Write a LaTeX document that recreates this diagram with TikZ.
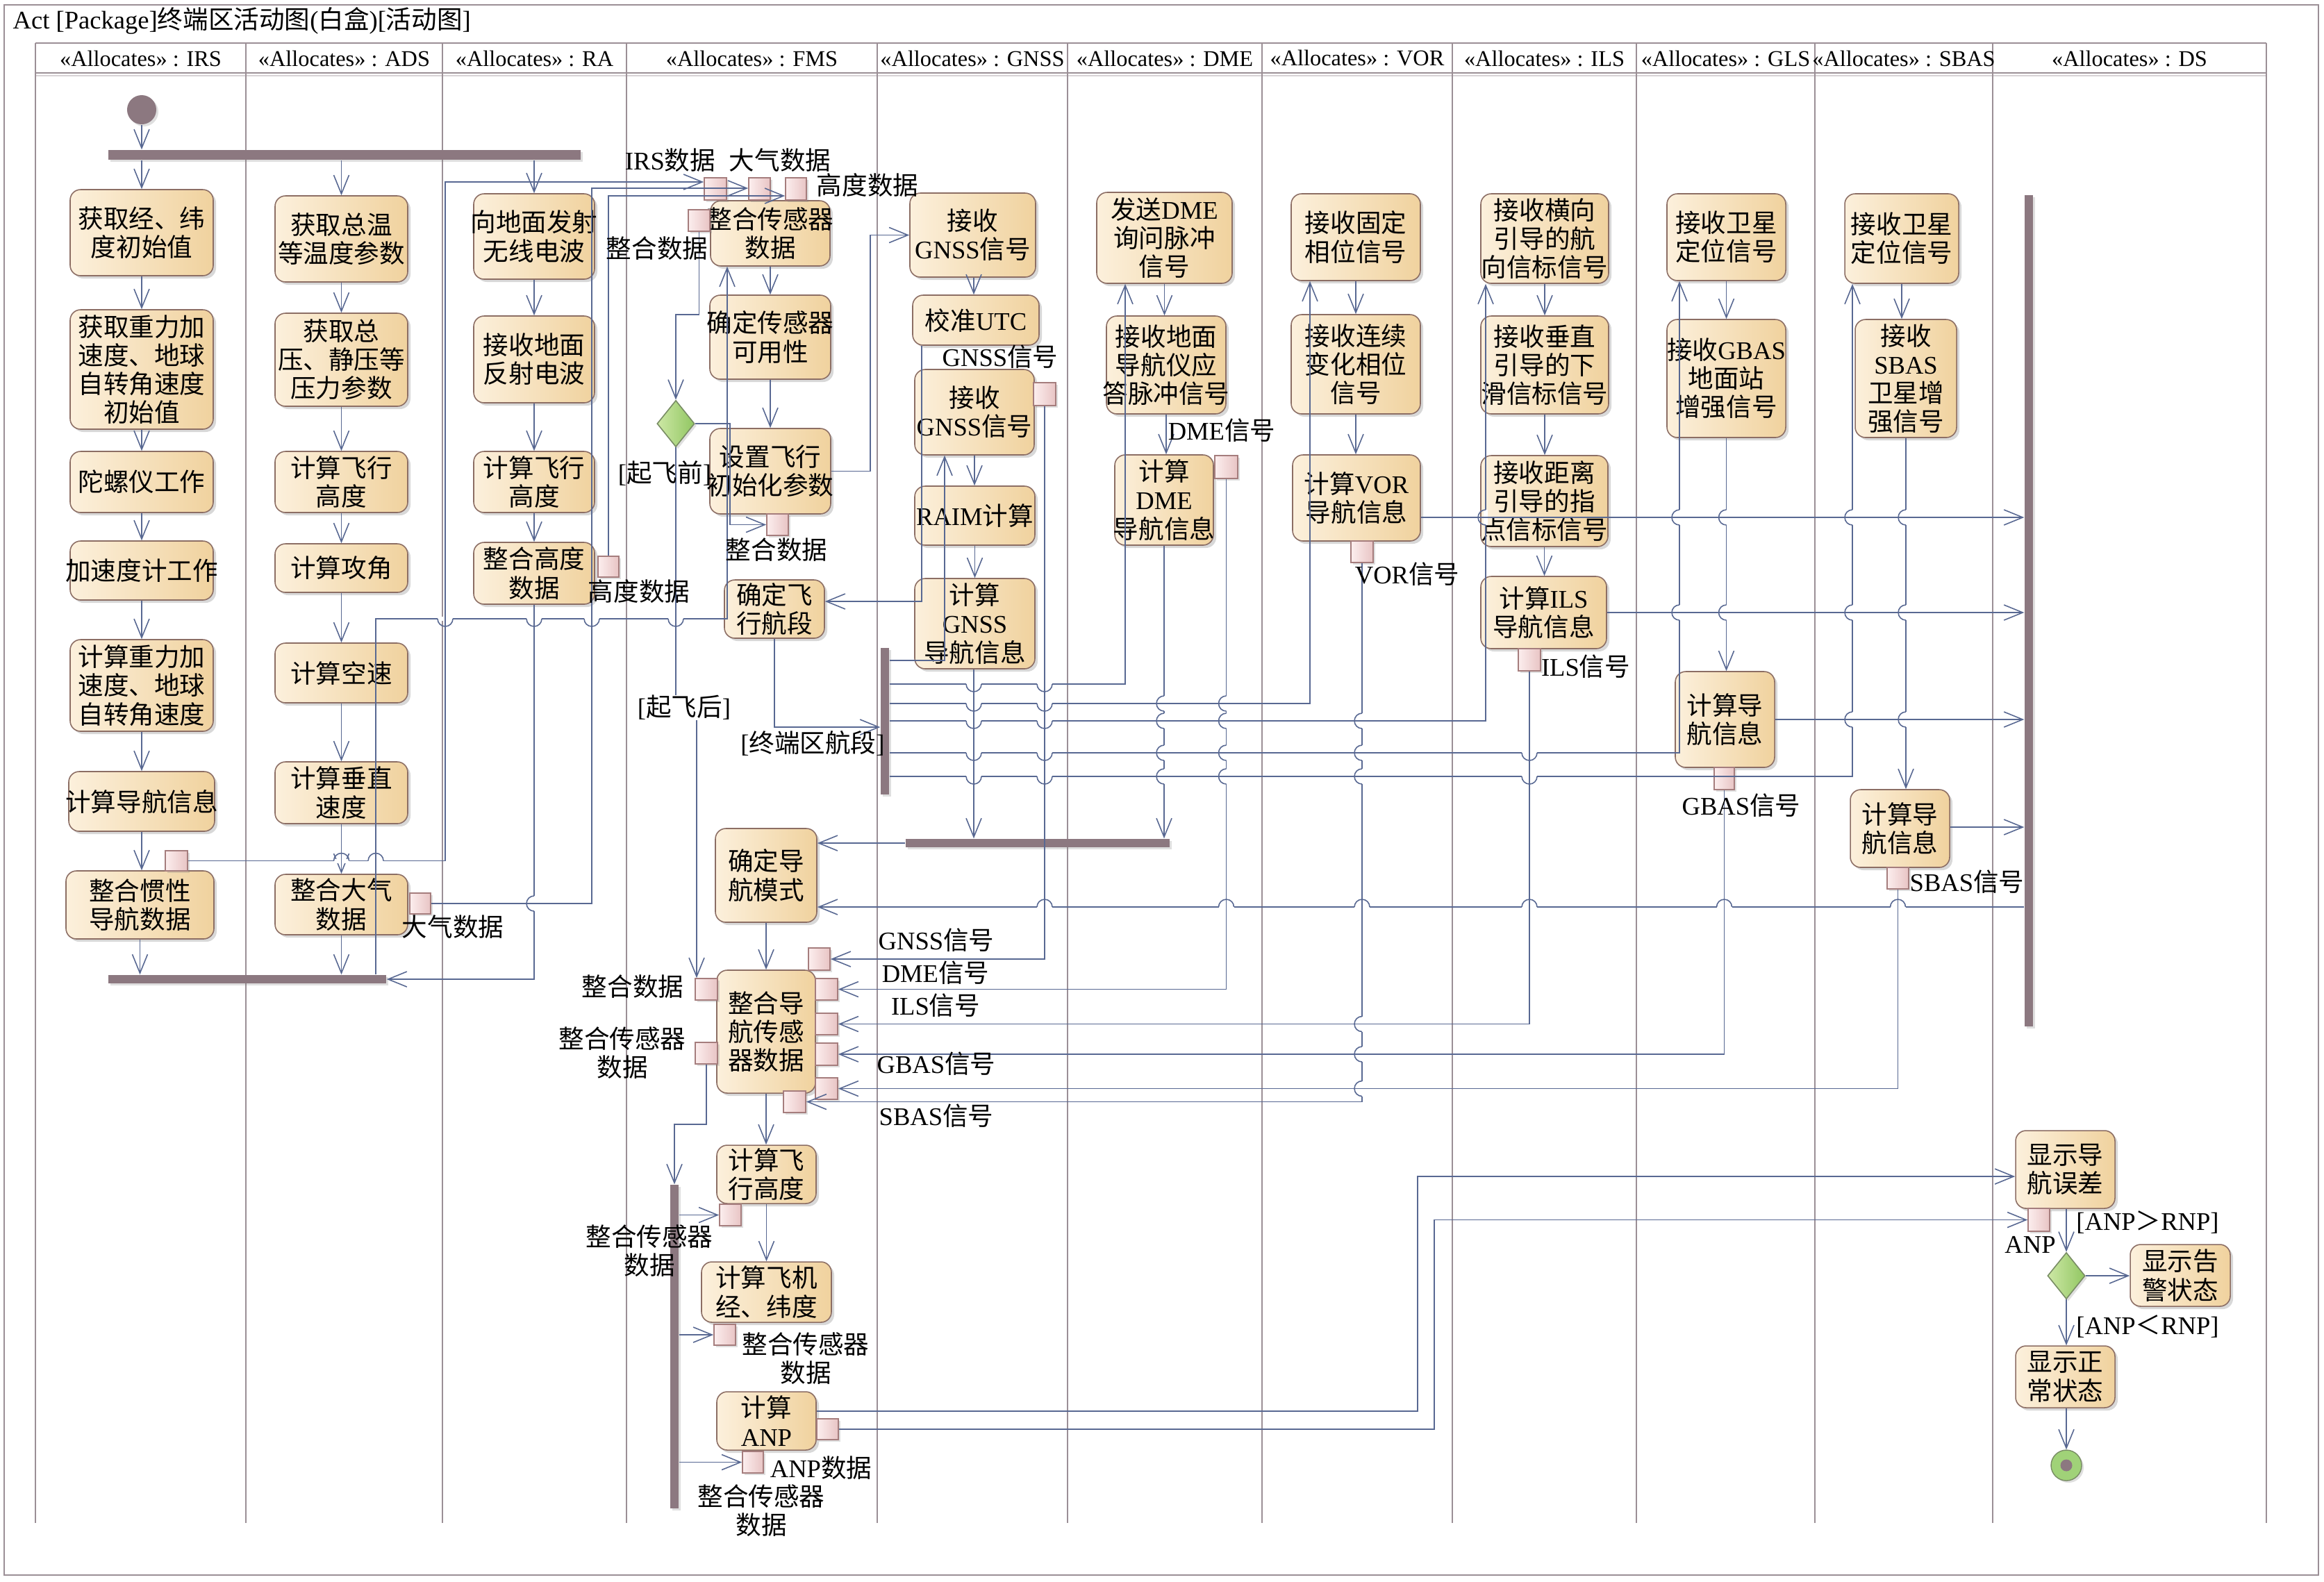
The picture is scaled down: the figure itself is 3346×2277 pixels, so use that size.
\documentclass[tikz,border=0pt]{standalone}
\usepackage{fontspec}
\setmainfont{Liberation Serif}
\newfontfamily\cjkf{Noto Sans CJK SC}
\usetikzlibrary{arrows.meta,shapes.geometric,shadows}
\XeTeXinterchartokenstate=1
\newXeTeXintercharclass\cjkcls
\newcount\mycnt
\mycnt="3000 \loop \XeTeXcharclass\mycnt=\cjkcls \ifnum\mycnt<"303F \advance\mycnt by 1 \repeat
\mycnt="4E00 \loop \XeTeXcharclass\mycnt=\cjkcls \ifnum\mycnt<"9FFF \advance\mycnt by 1 \repeat
\mycnt="FF00 \loop \XeTeXcharclass\mycnt=\cjkcls \ifnum\mycnt<"FFEF \advance\mycnt by 1 \repeat
\XeTeXinterchartoks 0 \cjkcls = {\cjkf}
\XeTeXinterchartoks 4095 \cjkcls = {\cjkf}
\XeTeXinterchartoks \cjkcls 0 = {\rmfamily}
\XeTeXinterchartoks \cjkcls 4095 = {\rmfamily}

\definecolor{actL}{RGB}{252,240,220}
\definecolor{actR}{RGB}{240,210,158}
\definecolor{actB}{RGB}{140,110,100}
\definecolor{pinL}{RGB}{252,238,238}
\definecolor{pinR}{RGB}{232,196,196}
\definecolor{pinB}{RGB}{165,125,125}
\definecolor{flowc}{RGB}{88,104,146}
\definecolor{barc}{RGB}{140,120,128}
\definecolor{lanec}{RGB}{155,143,150}
\definecolor{decL}{RGB}{205,232,165}
\definecolor{decR}{RGB}{145,198,98}
\definecolor{decB}{RGB}{120,140,100}
\definecolor{finc}{RGB}{160,210,120}

\newcommand\boxfont{\fontsize{10.4pt}{11.7pt}\selectfont}
\newcommand\hdrfont{\fontsize{9.2pt}{11pt}\selectfont}

\tikzset{
  act/.style={draw=actB, line width=0.45pt, rounded corners=0.15cm, left color=actL, right color=actR,
    inner sep=0pt, drop shadow={shadow xshift=0.04cm, shadow yshift=-0.04cm, opacity=0.3}},
  atext/.style={align=center, font=\boxfont, inner sep=0pt, text=black},
  pinb/.style={draw=pinB, line width=0.45pt, left color=pinL, right color=pinR, inner sep=0pt,
    drop shadow={shadow xshift=0.03cm, shadow yshift=-0.03cm, opacity=0.25}},
  barn/.style={fill=barc, draw=none, inner sep=0pt,
    drop shadow={shadow xshift=0.03cm, shadow yshift=-0.03cm, opacity=0.25}},
  flow/.style={draw=flowc, line width=0.45pt, -{Straight Barb[length=0.27cm,width=0.22cm]}},
  hopline/.style={draw=flowc, line width=0.45pt},
  lbl/.style={align=center, font=\boxfont, inner sep=0pt},
  lane/.style={draw=lanec, line width=0.8pt},
  dec/.style={diamond, draw=decB, line width=0.45pt, left color=decL, right color=decR,
    minimum width=0.54cm, minimum height=0.67cm, inner sep=0pt,
    drop shadow={shadow xshift=0.03cm, shadow yshift=-0.03cm, opacity=0.25}},
}

\newcommand\ActBox[6]{%
  \node[act, minimum width={(#4-#2)*0.01cm}, minimum height={(#5-#3)*0.01cm}] (#1) at ({(#2+#4)/2},{(#3+#5)/2}) {};
  \node[atext] (#1t) at (#1.center) {#6};}
\newcommand\PinBox[5]{%
  \node[pinb, minimum width={(#4-#2)*0.01cm}, minimum height={(#5-#3)*0.01cm}] (#1) at ({(#2+#4)/2},{(#3+#5)/2}) {};}
\newcommand\BarBox[5]{%
  \node[barn, minimum width={(#4-#2)*0.01cm}, minimum height={(#5-#3)*0.01cm}] (#1) at ({(#2+#4)/2},{(#3+#5)/2}) {};}
\newcommand\LabelAt[4]{\node[lbl] (#1) at (#2,#3) {#4};}
% horizontal line at y=#2 jumps over a vertical line at x=#1; #3 = 360 (bump down) or 0 (bump up)
\newcommand\HopH[3]{%
  \fill[white] ({#1-11},{#2-3}) rectangle ({#1+11},{#2+3});
  \draw[hopline] (#1,{#2-5}) -- (#1,{#2+5});
  \draw[hopline] ({#1-11},#2) arc[start angle=180, end angle=#3, radius=0.11cm];}
% vertical line at x=#1 jumps over a horizontal line at y=#2 (bump to the left)
\newcommand\HopV[2]{%
  \fill[white] ({#1-3},{#2-11}) rectangle ({#1+3},{#2+11});
  \draw[hopline] ({#1-5},#2) -- ({#1+5},#2);
  \draw[hopline] (#1,{#2-11}) arc[start angle=90, end angle=270, radius=0.11cm];}

\begin{document}
\begin{tikzpicture}[x=0.01cm, y=-0.01cm]
\useasboundingbox (0,0) rectangle (3346,2277);
\fill[white] (0,0) rectangle (3346,2277);

% frame and title
\draw[lane] (6,7) rectangle (3338,2268);
\node[anchor=west, font=\boxfont, inner sep=0pt] (title) at (18,30) {Act [Package]终端区活动图(白盒)[活动图]};

% swimlanes
\draw[lane] (51,62) -- (3263,62);
\draw[lane] (51,105) -- (3263,105);
\draw[draw=lanec!40, line width=0.6pt] (51,109) -- (3263,109);
\foreach \bx in {51,354,637,902,1263,1537,1817,2091,2356,2613,2869,3263}
  {\draw[lane] (\bx,62) -- (\bx,2193);}
\foreach \n/\cx/\t in {1/202.5/IRS,2/495.5/ADS,3/769.5/RA,4/1082.5/FMS,5/1400/GNSS,6/1677/DME,7/1954/VOR,8/2223.5/ILS,9/2484.5/GLS,10/2741/SBAS,11/3066/DS}
  {\node[font=\hdrfont, inner sep=0pt] (h\n) at (\cx,84) {«Allocates» : \t};}

% control nodes
\node[circle, fill=barc, minimum size=0.42cm, inner sep=0pt,
  drop shadow={shadow xshift=0.03cm, shadow yshift=-0.03cm, opacity=0.25}] (init) at (204,158) {};
\BarBox{fork1}{156}{216}{836}{230}
\BarBox{join1}{156}{1404}{556}{1416}
\BarBox{vbar1}{1268}{933}{1280}{1144}
\BarBox{hbar}{1304}{1208}{1684}{1220}
\BarBox{dsbar}{2915}{281}{2927}{1478}
\BarBox{vbar2}{965}{1706}{977}{2172}
\node[dec] (dia1) at (973,610) {};
\node[dec] (dia2) at (2975,1837) {};
\node[circle, draw=decB, fill=finc, minimum size=0.44cm, inner sep=0pt,
  drop shadow={shadow xshift=0.03cm, shadow yshift=-0.03cm, opacity=0.25}] (final) at (2975,2110) {};
\node[circle, fill=barc, minimum size=0.17cm, inner sep=0pt] (finaldot) at (final.center) {};

% IRS
\ActBox{irs1}{101}{273}{307}{397}{获取经、纬\\度初始值}
\ActBox{irs2}{101}{446}{307}{618}{获取重力加\\速度、地球\\自转角速度\\初始值}
\ActBox{irs3}{101}{650}{307}{738}{陀螺仪工作}
\ActBox{irs4}{101}{779}{307}{864}{加速度计工作}
\ActBox{irs5}{101}{921}{307}{1053}{计算重力加\\速度、地球\\自转角速度}
\ActBox{irs6}{99}{1111}{309}{1197}{计算导航信息}
\ActBox{irs7}{95}{1254}{308}{1352}{整合惯性\\导航数据}
\PinBox{irsp}{238}{1225}{270}{1254}
% ADS
\ActBox{ads1}{396}{282}{587}{406}{获取总温\\等温度参数}
\ActBox{ads2}{396}{451}{587}{585}{获取总\\压、静压等\\压力参数}
\ActBox{ads3}{396}{650}{587}{738}{计算飞行\\高度}
\ActBox{ads4}{396}{783}{587}{853}{计算攻角}
\ActBox{ads5}{396}{926}{587}{1012}{计算空速}
\ActBox{ads6}{396}{1097}{587}{1186}{计算垂直\\速度}
\ActBox{ads7}{396}{1259}{587}{1346}{整合大气\\数据}
\PinBox{adsp}{590}{1286}{620}{1316}
% RA
\ActBox{ra1}{682}{279}{856}{402}{向地面发射\\无线电波}
\ActBox{ra2}{682}{455}{856}{580}{接收地面\\反射电波}
\ActBox{ra3}{682}{650}{856}{738}{计算飞行\\高度}
\ActBox{ra4}{682}{781}{856}{870}{整合高度\\数据}
\PinBox{rap}{861}{801}{891}{831}
% FMS
\ActBox{fms1}{1023}{289}{1195}{383}{整合传感器\\数据}
\PinBox{pirs}{1014}{256}{1046}{288}
\PinBox{patm}{1078}{256}{1109}{288}
\PinBox{palt}{1131}{256}{1161}{288}
\PinBox{pint}{991}{302}{1022}{333}
\ActBox{fms2}{1022}{425}{1196}{546}{确定传感器\\可用性}
\ActBox{fms3}{1022}{617}{1196}{740}{设置飞行\\初始化参数}
\PinBox{pset}{1104}{740}{1135}{771}
\ActBox{fms4}{1043}{835}{1187}{919}{确定飞\\行航段}
\ActBox{fms5}{1030}{1193}{1176}{1328}{确定导\\航模式}
\ActBox{fms6}{1032}{1397}{1174}{1574}{整合导\\航传感\\器数据}
\PinBox{pl1}{1001}{1409}{1033}{1440}
\PinBox{pl2}{1001}{1501}{1033}{1532}
\PinBox{prgnss}{1164}{1365}{1195}{1397}
\PinBox{prdme}{1174}{1409}{1206}{1440}
\PinBox{prils}{1174}{1459}{1206}{1490}
\PinBox{prgbas}{1174}{1502}{1206}{1534}
\PinBox{prsbas}{1174}{1552}{1206}{1583}
\PinBox{pbvor}{1128}{1571}{1160}{1602}
\ActBox{fms7}{1032}{1649}{1175}{1733}{计算飞\\行高度}
\PinBox{p7}{1036}{1734}{1067}{1765}
\ActBox{fms8}{1010}{1817}{1197}{1904}{计算飞机\\经、纬度}
\PinBox{p8}{1028}{1907}{1059}{1937}
\ActBox{fms9}{1032}{2004}{1175}{2088}{计算\\ANP}
\PinBox{p9r}{1176}{2043}{1207}{2073}
\PinBox{p9b}{1069}{2090}{1099}{2121}
% GNSS
\ActBox{g1}{1310}{278}{1491}{399}{接收\\GNSS信号}
\ActBox{g2}{1314}{425}{1496}{497}{校准UTC}
\ActBox{g3}{1317}{532}{1489}{655}{接收\\GNSS信号}
\PinBox{g3p}{1488}{551}{1520}{584}
\ActBox{g4}{1317}{700}{1490}{785}{RAIM计算}
\ActBox{g5}{1317}{833}{1490}{963}{计算\\GNSS\\导航信息}
% DME
\ActBox{d1}{1579}{277}{1774}{408}{发送DME\\询问脉冲\\信号}
\ActBox{d2}{1593}{455}{1765}{596}{接收地面\\导航仪应\\答脉冲信号}
\ActBox{d3}{1605}{655}{1747}{785}{计算\\DME\\导航信息}
\PinBox{d3p}{1749}{656}{1782}{689}
% VOR
\ActBox{v1}{1859}{279}{2045}{404}{接收固定\\相位信号}
\ActBox{v2}{1859}{453}{2045}{596}{接收连续\\变化相位\\信号}
\ActBox{v3}{1861}{655}{2045}{779}{计算VOR\\导航信息}
\PinBox{v3p}{1945}{779}{1977}{810}
% ILS
\ActBox{i1}{2132}{279}{2316}{408}{接收横向\\引导的航\\向信标信号}
\ActBox{i2}{2132}{455}{2316}{596}{接收垂直\\引导的下\\滑信标信号}
\ActBox{i3}{2132}{656}{2315}{787}{接收距离\\引导的指\\点信标信号}
\ActBox{i4}{2132}{830}{2313}{934}{计算ILS\\导航信息}
\PinBox{i4p}{2186}{934}{2218}{966}
% GLS
\ActBox{gl1}{2400}{279}{2571}{404}{接收卫星\\定位信号}
\ActBox{gl2}{2400}{460}{2571}{630}{接收GBAS\\地面站\\增强信号}
\ActBox{gl3}{2412}{967}{2555}{1105}{计算导\\航信息}
\PinBox{gl3p}{2468}{1105}{2497}{1137}
% SBAS
\ActBox{s1}{2656}{279}{2820}{408}{接收卫星\\定位信号}
\ActBox{s2}{2671}{460}{2817}{630}{接收\\SBAS\\卫星增\\强信号}
\ActBox{s3}{2664}{1137}{2807}{1249}{计算导\\航信息}
\PinBox{s3p}{2717}{1249}{2748}{1280}
% DS
\ActBox{ds1}{2902}{1628}{3045}{1740}{显示导\\航误差}
\PinBox{panp}{2920}{1740}{2951}{1773}
\ActBox{ds2}{3067}{1792}{3211}{1881}{显示告\\警状态}
\ActBox{ds3}{2902}{1938}{3045}{2027}{显示正\\常状态}

% ---------- flows ----------
\draw[flow] (init.south) -- (init.south |- fork1.north);
\draw[flow] (irs1.north |- fork1.south) -- (irs1.north);
\draw[flow] (ads1.north |- fork1.south) -- (ads1.north);
\draw[flow] (ra1.north |- fork1.south) -- (ra1.north);
\foreach \a/\b in {irs1/irs2,irs2/irs3,irs3/irs4,irs4/irs5,irs5/irs6,irs6/irs7,
  ads1/ads2,ads2/ads3,ads3/ads4,ads4/ads5,ads5/ads6,ads6/ads7,
  ra1/ra2,ra2/ra3,ra3/ra4,fms1/fms2,fms2/fms3,fms5/fms6,fms6/fms7,fms7/fms8,
  g3/g4,g4/g5,d1/d2,d2/d3,v1/v2,v2/v3,i1/i2,i2/i3,i3/i4,gl1/gl2,gl2/gl3,s1/s2,s2/s3}
  {\draw[flow] (\a.south) -- (\a.south |- \b.north);}
\draw[flow] (irs7.south) -- (irs7.south |- join1.north);
\draw[flow] (ads7.south) -- (ads7.south |- join1.north);
\draw[flow] (ra4.south) |- (join1.east);
\draw[flow] (join1.north -| 541,0) -- (541,891) -| (fms1.south -| 1047,0);
\draw[flow] (irsp.east) -- (641,1239.5) -- (641,262) -- (pirs.west |- 0,262);
\draw[flow] (adsp.east) -- (852,1301) -- (852,271) -- (patm.west |- 0,271);
\draw[flow] (rap.north) -- (876,282) -- (palt.west |- 0,282);
\draw[flow] (pint.south) -- (pint.south |- 0,453) -- (dia1.north |- 0,453) -- (dia1.north);
\draw[flow] (dia1.east) -- (1051,610) -- (1051,755.5) -- (pset.west);
\draw[flow] (dia1.south) -- (973,1019) -- (1003,1019) -- (pl1.north -| 1003,0);
\draw[flow] (fms3.east) -| (1253,338.5) -- (g1.west);
\draw[flow] (g1.south -| 1402,0) -- (g2.north -| 1402,0);
\draw[flow] (g2.south -| 1327,0) -- (1327,866) -- (fms4.east |- 0,866);
\draw[flow] (fms4.south) |- (vbar1.west |- 0,1047);
\draw[flow] (vbar1.east |- 0,951) -| (g3.south -| 1360,0);
\draw[flow] (vbar1.east |- 0,985) -| (d1.south -| 1620,0);
\draw[flow] (vbar1.east |- 0,1013) -| (v1.south -| 1886,0);
\draw[flow] (vbar1.east |- 0,1038) -| (i1.south -| 2139,0);
\draw[flow] (vbar1.east |- 0,1084) -| (gl1.south -| 2418,0);
\draw[flow] (vbar1.east |- 0,1118) -| (s1.south -| 2667,0);
\draw[flow] (g5.south -| 1402,0) -- (hbar.north -| 1402,0);
\draw[flow] (d3.south) -- (d3.south |- hbar.north);
\draw[flow] (hbar.west) -- (hbar.west -| fms5.east);
\draw[flow] (v3.east |- 0,745) -- (dsbar.west |- 0,745);
\draw[flow] (i4.east |- 0,882) -- (dsbar.west |- 0,882);
\draw[flow] (gl3.east |- 0,1036) -- (dsbar.west |- 0,1036);
\draw[flow] (s3.east |- 0,1191) -- (dsbar.west |- 0,1191);
\draw[flow] (dsbar.west |- 0,1306) -- (fms5.east |- 0,1306);
\draw[flow] (g3p.south) |- (prgnss.east);
\draw[flow] (d3p.south) |- (prdme.east);
\draw[flow] (i4p.south) |- (prils.east);
\draw[flow] (gl3p.south) |- (prgbas.east);
\draw[flow] (s3p.south) |- (prsbas.east);
\draw[flow] (v3p.south) |- (pbvor.east);
\draw[flow] (pl2.south) -- (pl2.south |- 0,1619) -| (vbar2.north);
\draw[flow] (vbar2.east |- p7.west) -- (p7.west);
\draw[flow] (vbar2.east |- p8.west) -- (p8.west);
\draw[flow] (vbar2.east |- p9b.west) -- (p9b.west);
\draw[flow] (fms9.east |- 0,2032) -| (2041,1694) -- (ds1.west |- 0,1694);
\draw[flow] (p9r.east) -| (2065,1756.5) -- (panp.west);
\draw[flow] (dia2.north |- ds1.south) -- (dia2.north);
\draw[flow] (dia2.east) -- (ds2.west |- dia2.east);
\draw[flow] (dia2.south) -- (dia2.south |- ds3.north);
\draw[flow] (final.north |- ds3.south) -- (final.north);

% ---------- line jumps at crossings ----------
\foreach \hx in {641,769,852,973} {\HopH{\hx}{891}{360}}
\foreach \hx in {491.5,541} {\HopH{\hx}{1239.5}{0}}
\foreach \hy in {985,1013,1038,1084,1118} {\HopH{1402}{\hy}{360}\HopH{1504}{\hy}{360}}
\foreach \hy in {1084,1118} {\HopH{2202}{\hy}{360}}
\foreach \hx in {1504,1765.5,1961,2202,2482.5,2732.5} {\HopH{\hx}{1306}{0}}
\foreach \hy in {1013,1038,1084,1118} {\HopV{1676}{\hy}\HopV{1765.5}{\hy}}
\foreach \hy in {1038,1084,1118,1474.5,1518,1567.5} {\HopV{1961}{\hy}}
\HopV{769}{1301}
\foreach \hx in {2139,2418,2485.5,2667,2744} {\HopV{\hx}{745}}
\foreach \hx in {2418,2485.5,2667,2744} {\HopV{\hx}{882}}
\foreach \hx in {2667,2744} {\HopV{\hx}{1036}}

% ---------- labels ----------
\LabelAt{lirs}{965}{231}{IRS数据}
\LabelAt{latm}{1123}{231}{大气数据}
\LabelAt{lalt}{1249}{267}{高度数据}
\LabelAt{lint}{946}{358}{整合数据}
\LabelAt{lbefore}{957}{681}{[起飞前]}
\LabelAt{lset}{1118}{792}{整合数据}
\node[lbl, fill=white] (lafter) at (985,1019) {[起飞后]};
\LabelAt{lterm}{1170}{1070}{[终端区航段]}
\LabelAt{ladsp}{652}{1335}{大气数据}
\LabelAt{lrap}{920}{852}{高度数据}
\LabelAt{lgsig}{1440}{514}{GNSS信号}
\LabelAt{ldsig}{1759}{620}{DME信号}
\LabelAt{lvsig}{2026}{827}{VOR信号}
\LabelAt{lisig}{2283}{960}{ILS信号}
\LabelAt{lgbsig}{2507}{1160}{GBAS信号}
\LabelAt{lsbsig}{2832}{1270}{SBAS信号}
\LabelAt{lint2}{911}{1421}{整合数据}
\LabelAt{lsen2}{896}{1516}{整合传感器\\数据}
\LabelAt{lr1}{1348}{1354}{GNSS信号}
\LabelAt{lr2}{1347}{1401}{DME信号}
\LabelAt{lr3}{1347}{1448}{ILS信号}
\LabelAt{lr4}{1348}{1532}{GBAS信号}
\LabelAt{lr5}{1348}{1607}{SBAS信号}
\LabelAt{lsen3}{935}{1801}{整合传感器\\数据}
\LabelAt{lsen4}{1160}{1956}{整合传感器\\数据}
\LabelAt{lanpd}{1182}{2114}{ANP数据}
\LabelAt{lsen5}{1096}{2175}{整合传感器\\数据}
\LabelAt{lanp}{2923}{1792}{ANP}
\LabelAt{lg1}{3092}{1760}{[ANP＞RNP]}
\LabelAt{lg2}{3092}{1910}{[ANP＜RNP]}
\end{tikzpicture}
\end{document}
